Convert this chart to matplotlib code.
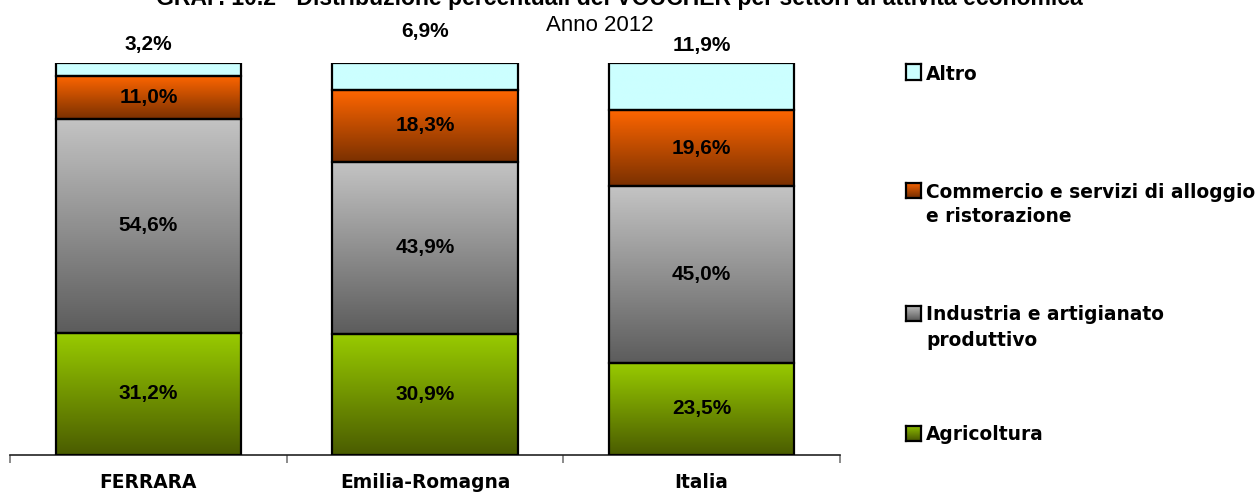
import numpy as np
import matplotlib
matplotlib.use("Agg")
import matplotlib.pyplot as plt
from matplotlib.colors import LinearSegmentedColormap

# --- data -------------------------------------------------------------
areas = ["FERRARA", "Emilia-Romagna", "Italia"]
sectors = ["Agricoltura", "Industria e artigianato\nproduttivo",
           "Commercio e servizi di alloggio\ne ristorazione", "Altro"]
agricoltura = [31.2, 30.9, 23.5]
industria = [54.6, 43.9, 45.0]
commercio = [11.0, 18.3, 19.6]
altro = [3.2, 6.9, 11.9]

title = "GRAF. 10.2 - Distribuzione percentuali dei VOUCHER per settori di attività economica"
subtitle = "Anno 2012"

# (bottom colour, top colour) of each segment's vertical gradient
gradients = [("#4a5c00", "#99cc00"),
             ("#5c5c5c", "#c4c4c4"),
             ("#7a3000", "#ff6600"),
             ("#ccffff", "#ccffff")]

W, H = 1260, 493
fig = plt.figure(figsize=(W / 100, H / 100), dpi=100)
ax = fig.add_axes([10 / W, (H - 455) / H, 830 / W, 392 / H])

x = np.arange(len(areas))
series = [agricoltura, industria, commercio, altro]
grad = np.linspace(0, 1, 256).reshape(-1, 1)

bottom = np.zeros(len(areas))
containers = []
for vals, (c0, c1) in zip(series, gradients):
    vals = np.asarray(vals)
    bars = ax.bar(x, vals, width=0.67, bottom=bottom, facecolor="none",
                  edgecolor="black", linewidth=1.6, zorder=3)
    cmap = LinearSegmentedColormap.from_list("g", [c0, c1])
    for patch in bars:
        x0, y0 = patch.get_x(), patch.get_y()
        im = ax.imshow(grad, cmap=cmap, aspect="auto", origin="lower",
                       extent=[x0, x0 + patch.get_width(), y0, y0 + patch.get_height()],
                       zorder=2)
        im.set_clip_path(patch)
    containers.append((bars, vals))
    bottom = bottom + vals

ax.set_xlim(-0.5, 2.5)
ax.set_ylim(0, 100)

label_font = dict(family="Liberation Sans", fontweight="bold", fontsize=15)

# value labels inside the first three segments
for bars, vals in containers[:3]:
    ax.bar_label(bars, labels=[f"{v:.1f}%".replace(".", ",") for v in vals],
                 label_type="center", **label_font)

# "Altro" values sit above each column
altro_bars, altro_vals = containers[3]
above = [13.5, 22.5, 12.5]
for patch, v, off in zip(altro_bars, altro_vals, above):
    ax.annotate(f"{v:.1f}%".replace(".", ","),
                (patch.get_x() + patch.get_width() / 2, patch.get_y() + patch.get_height()),
                xytext=(0, off), textcoords="offset points",
                ha="center", va="center", **label_font)

# axes styling
for s in ["top", "left", "right"]:
    ax.spines[s].set_visible(False)
ax.spines["bottom"].set_color("#222222")
ax.spines["bottom"].set_linewidth(1.2)
ax.set_yticks([])
ax.set_xticks(x)
ax.set_xticklabels(areas, fontfamily="DejaVu Sans", fontweight="bold", fontsize=13.4)
ax.tick_params(axis="x", which="major", length=0, pad=13)
ax.set_xticks([-0.5, 0.5, 1.5, 2.5], minor=True)
ax.tick_params(axis="x", which="minor", length=6, width=1.2, color="#777777",
               direction="out")

# titles
fig.text(619 / W, 1 - 5 / H, title, ha="center", va="baseline",
         family="Liberation Sans", fontweight="bold", fontsize=16.6)
fig.text(600 / W, 1 - 31 / H, subtitle, ha="center", va="baseline",
         family="Liberation Sans", fontsize=16)

# legend, drawn top to bottom with the last series first
legend_rows = [433, 313, 190, 72]  # centre of the first text line, pixels from top
sq = 15
for name, (c0, c1), yc in zip(sectors, gradients, legend_rows):
    lax = fig.add_axes([906 / W, (H - yc - sq / 2) / H, sq / W, sq / H])
    lax.imshow(grad, cmap=LinearSegmentedColormap.from_list("g", [c0, c1]),
               aspect="auto", origin="lower")
    lax.set_xticks([])
    lax.set_yticks([])
    for s in lax.spines.values():
        s.set_linewidth(1.6)
        s.set_color("black")
    for i, line in enumerate(name.split("\n")):
        fig.text(926 / W, (H - yc - 25 * i) / H, line, ha="left", va="center_baseline",
                 family="DejaVu Sans", fontweight="bold", fontsize=13.4)

fig.savefig("out.png", dpi=100)
